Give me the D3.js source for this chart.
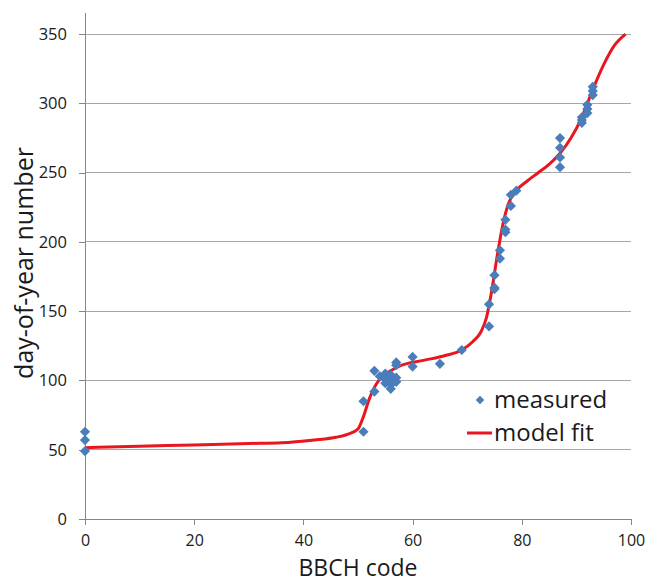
<!DOCTYPE html>
<html>
<head>
  <meta charset="utf-8">
  <title>BBCH code vs day-of-year</title>
  <script src="https://cdn.jsdelivr.net/npm/d3@7"></script>
  <style>
  body { margin: 0; background: #fff; }
  text { font-family: "Open Sans", sans-serif; fill: #1a1a1a; }
  .tick text { font-size: 16px; }
  .axis path, .axis line { stroke: #868686; shape-rendering: crispEdges; }
  .grid line { stroke: #a6a6a6; shape-rendering: crispEdges; }
  .axisTitle { font-size: 25px; }
  .xTitle { font-size: 23px; }
  .legend text { font-size: 24px; }
  </style>
</head>
<body>
<script>
  // measured points (BBCH code, day-of-year)
  const measuredX = [0, 0, 0,
    51, 51, 53, 53,
    54, 55, 55, 56, 56, 56, 56, 57, 57, 55,
    57, 57, 60, 60, 65, 69,
    74, 74, 75, 75, 75, 76, 76, 77, 77, 77, 78, 78, 79,
    87, 87, 87, 87,
    91, 91, 91, 92, 92, 92, 93, 93, 93];
  const measuredY = [63, 57, 49,
    63, 85, 92, 107,
    103, 105, 101, 104, 100, 97, 94, 102, 99, 98,
    113, 111, 117, 110, 112, 122,
    139, 155, 166, 167, 176, 188, 194, 207, 209, 216, 226, 234, 237,
    254, 261, 268, 275,
    286, 290, 288, 293, 296, 299, 306, 309, 312];

  // model fit curve
  const fitX = [0, 10, 20, 30, 36, 42, 46, 48, 50, 51, 52, 53, 54, 56, 58, 62, 66, 69, 71, 72.5,
    73.5, 74.5, 75.5, 76.5, 77.5, 79, 81, 83, 85, 87, 89, 91, 93, 95, 97, 99];
  const fitY = [51.5, 52.5, 53.5, 54.5, 55, 57, 59, 61, 65, 74, 86, 95, 101, 107, 111, 114.5, 118, 122, 128, 135,
    145, 165, 190, 212, 227, 237, 244, 250, 256, 264, 275, 290, 310, 328, 342, 350];

  const xTicks = [0, 20, 40, 60, 80, 100];
  const yTicks = [0, 50, 100, 150, 200, 250, 300, 350];

  const width = 655, height = 582;
  const blue = "#4a7ebb", red = "#e8161e";

  const x = d3.scaleLinear().domain([0, 100]).range([85, 631]);
  const y = d3.scaleLinear().domain([0, 366]).range([519, 12]);

  const svg = d3.select("body").append("svg")
    .attr("width", width)
    .attr("height", height);

  // horizontal gridlines
  svg.append("g")
    .attr("class", "grid")
    .selectAll("line")
    .data(yTicks.slice(1))
    .enter()
    .append("line")
    .attr("x1", x(0))
    .attr("x2", x(100))
    .attr("y1", d => y(d))
    .attr("y2", d => y(d));

  // axes
  svg.append("g")
    .attr("class", "axis")
    .attr("transform", `translate(0,${y(0)})`)
    .call(d3.axisBottom(x).tickValues(xTicks).tickSize(6).tickSizeOuter(0).tickPadding(10));

  svg.append("g")
    .attr("class", "axis")
    .attr("transform", `translate(${x(0)},0)`)
    .call(d3.axisLeft(y).tickValues(yTicks).tickSize(6).tickSizeOuter(0).tickPadding(12))
    .selectAll(".tick text")
    .style("font-size", "16.5px");

  // model fit line
  const line = d3.line()
    .x(d => x(d[0]))
    .y(d => y(d[1]))
    .curve(d3.curveMonotoneX);

  svg.append("path")
    .datum(d3.zip(fitX, fitY))
    .attr("d", line)
    .attr("fill", "none")
    .attr("stroke", red)
    .attr("stroke-width", 3);

  // measured diamonds
  const diamond = d3.symbol().type(d3.symbolSquare).size(52);
  svg.append("g")
    .selectAll("path")
    .data(d3.zip(measuredX, measuredY))
    .enter()
    .append("path")
    .attr("d", diamond)
    .attr("transform", d => `translate(${x(d[0])},${y(d[1])}) rotate(45)`)
    .attr("fill", blue);

  // axis titles
  svg.append("text")
    .attr("class", "xTitle")
    .attr("x", (x(0) + x(100)) / 2)
    .attr("y", 576)
    .attr("text-anchor", "middle")
    .text("BBCH code");

  svg.append("text")
    .attr("class", "axisTitle")
    .attr("transform", "translate(33,263) rotate(-90)")
    .attr("text-anchor", "middle")
    .text("day-of-year number");

  // legend
  const legend = svg.append("g").attr("class", "legend");
  legend.append("path")
    .attr("d", d3.symbol().type(d3.symbolSquare).size(36))
    .attr("transform", "translate(480,400) rotate(45)")
    .attr("fill", blue);
  legend.append("text")
    .attr("x", 494)
    .attr("y", 408)
    .text("measured");
  legend.append("line")
    .attr("x1", 467).attr("x2", 492)
    .attr("y1", 433).attr("y2", 433)
    .attr("stroke", red)
    .attr("stroke-width", 3);
  legend.append("text")
    .attr("x", 494)
    .attr("y", 441)
    .text("model fit");
</script>
</body>
</html>
